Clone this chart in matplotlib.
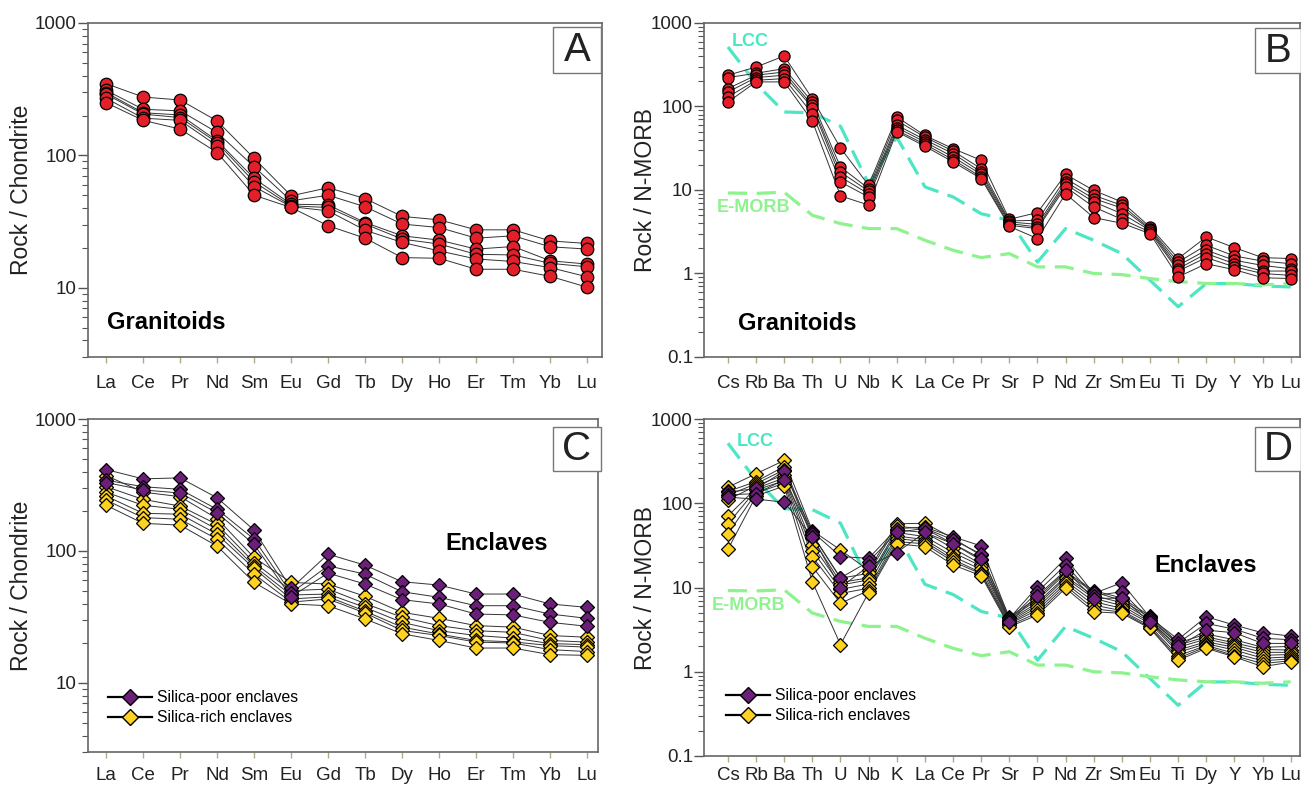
import numpy as np
import matplotlib
matplotlib.use("Agg")
import matplotlib.pyplot as plt
from matplotlib.lines import Line2D
from matplotlib.patches import Rectangle
from matplotlib.ticker import LogLocator, NullFormatter, FuncFormatter

W, H = 1301, 786
plt.rcParams['font.family'] = ['Liberation Sans', 'DejaVu Sans']

# Chondrite-normalised REE (panels A, C)
REE = ['La', 'Ce', 'Pr', 'Nd', 'Sm', 'Eu', 'Gd', 'Tb', 'Dy', 'Ho', 'Er', 'Tm', 'Yb', 'Lu']
GRAN_REE = [
    [348, 276, 262, 182, 95, 49.5, 57, 47.2, 34.6, 32.6, 27.4, 27.4, 22.6, 21.6],
    [310, 223, 217, 149, 82, 45.4, 50, 40.9, 30.3, 28.5, 23.7, 24.7, 20.4, 19.6],
    [298, 210, 202, 129, 67, 42.8, 42.3, 31.1, 24.7, 22.9, 19.6, 20.5, 16.0, 15.1],
    [290, 205, 193, 125, 63, 41.6, 40.4, 30.3, 23.3, 21.4, 17.9, 17.7, 15.3, 14.4],
    [270, 191, 184, 118, 58, 41.0, 38.1, 27.2, 22.0, 19.0, 16.5, 15.8, 14.2, 12.1],
    [250, 184, 158, 105, 50, 40.4, 29.4, 23.7, 16.9, 16.7, 13.8, 13.8, 12.2, 10.1],
]
POOR_REE = [
    [414, 352, 358, 253, 144, 52, 94.6, 78.1, 58.5, 55.2, 47.2, 47.2, 39.7, 37.4],
    [344, 307, 293, 207, 123, 48, 77.2, 66.8, 49.1, 44.6, 38.5, 38.5, 33.3, 30.9],
    [330, 290, 275, 195, 112, 45, 68, 56.2, 42.8, 39.7, 33.3, 32.8, 28.8, 26.9],
]
RICH_REE = [
    [373, 279, 258, 176, 89.3, 57.8, 56.2, 45.4, 34.3, 30.9, 27.2, 26.5, 22.9, 22.2],
    [307, 246, 219, 159, 81.8, 50, 51.5, 40, 31.5, 27.2, 24.9, 24.2, 21.0, 20.4],
    [279, 222, 207, 146, 77, 46.4, 47.2, 37.4, 28.8, 24.9, 22.9, 21.9, 19.9, 19.5],
    [261, 193, 190, 134, 73.8, 43.3, 45, 35, 26.5, 23.5, 21, 20.5, 19.2, 18.7],
    [243, 179, 174, 123, 66.8, 41, 43.3, 33.9, 25, 22.9, 20.4, 20.1, 17.9, 17.3],
    [222, 162, 157, 109, 57.8, 39.7, 38.5, 30.6, 23.6, 21.0, 18.4, 18.4, 16.4, 16.2],
]

# N-MORB-normalised multi-element (panels B, D)
SPIDER = ['Cs', 'Rb', 'Ba', 'Th', 'U', 'Nb', 'K', 'La', 'Ce', 'Pr', 'Sr',
          'P', 'Nd', 'Zr', 'Sm', 'Eu', 'Ti', 'Dy', 'Y', 'Yb', 'Lu']
GRAN_SP = [
    [237, 297, 403, 124, 31.9, 11.4, 75, 45, 31.3, 22.7, 4.46, 5.36, 15.4, 9.9, 7.19, 3.61, 1.51, 2.74, 2.04, 1.55, 1.51],
    [222, 250, 284, 113, 18.9, 10.4, 68, 43, 29.3, 18.0, 4.26, 4.34, 13.7, 8.64, 6.56, 3.45, 1.37, 2.18, 1.62, 1.41, 1.31],
    [164, 237, 259, 103, 16.4, 9.7, 60, 40, 27.3, 16.4, 4.14, 3.88, 12.5, 7.88, 6.09, 3.35, 1.25, 1.90, 1.44, 1.25, 1.14],
    [149, 222, 237, 97, 14.3, 9.0, 56, 37.6, 24.9, 15.4, 3.96, 3.61, 11.7, 7.19, 5.21, 3.29, 1.14, 1.73, 1.31, 1.07, 1.07],
    [130, 206, 216, 82, 12.5, 8.25, 52, 35.3, 23.1, 14.3, 3.78, 3.45, 10.9, 6.26, 4.46, 3.14, 1.07, 1.55, 1.20, 1.0, 0.95],
    [113, 197, 197, 67, 8.5, 6.6, 50, 33.4, 21.7, 13.7, 3.67, 2.62, 9.0, 4.67, 4.0, 3.0, 0.91, 1.31, 1.11, 0.89, 0.87],
]
POOR_SP = [
    [135, 150, 240, 46, 23.3, 22.2, 50, 52, 40, 31.1, 4.3, 10.2, 22.2, 8.5, 11.4, 4.4, 2.42, 4.5, 3.58, 2.9, 2.65],
    [126, 130, 190, 43, 13, 20.3, 45, 50.5, 36.7, 25, 4.1, 8.9, 18.5, 8.0, 8.9, 4.1, 2.2, 3.75, 3.2, 2.5, 2.4],
    [118, 112, 103, 40, 10, 18, 26, 45, 33, 22, 3.9, 8.0, 16, 7.4, 7.5, 3.9, 2.0, 3.12, 2.9, 2.17, 2.17],
]
RICH_SP = [
    [155, 224, 322, 47.4, 27.9, 16, 57, 57.9, 38.4, 24, 4.5, 7.5, 15.5, 9.2, 7.5, 4.6, 2.2, 2.8, 2.4, 1.95, 2.0],
    [138, 181, 273, 42, 12.9, 14.7, 53, 50, 33, 21, 4.3, 7.1, 14.7, 8.9, 7.0, 4.42, 2.07, 2.6, 2.2, 1.84, 1.81],
    [125, 170, 250, 38.4, 11.5, 13, 48.3, 45, 29.2, 19, 4.1, 6.6, 13.5, 8.0, 6.6, 4.1, 1.95, 2.45, 2.07, 1.7, 1.7],
    [110, 161, 218, 32, 10.7, 12.3, 45, 40.2, 26, 18, 3.95, 6.19, 12.9, 7.43, 6.1, 3.9, 1.81, 2.27, 1.95, 1.57, 1.6],
    [70.8, 150, 200, 27.4, 9.5, 11, 40.9, 37, 23.3, 16.4, 3.8, 5.8, 12, 6.8, 5.65, 3.75, 1.7, 2.15, 1.81, 1.45, 1.5],
    [56.9, 144, 185, 23.3, 8.5, 9.8, 38, 35.1, 21.5, 15, 3.7, 5.4, 11.2, 6.19, 5.3, 3.5, 1.55, 2.05, 1.65, 1.35, 1.42],
    [43.3, 132, 173, 17.7, 6.5, 9.2, 35.1, 33, 20.3, 14.5, 3.55, 5.0, 10.5, 5.6, 5.1, 3.35, 1.45, 1.98, 1.55, 1.25, 1.35],
    [28.4, 122, 160, 11.7, 2.1, 8.7, 33, 30.6, 18.5, 13.8, 3.42, 4.71, 9.8, 5.16, 4.93, 3.27, 1.37, 1.9, 1.5, 1.15, 1.3],
]
LCC = [516, 188, 86, 84, 58, 11.9, 43, 10.9, 8.26, 5.2, 4.34, 1.37, 3.45, 2.5, 1.73, 0.83, 0.40, 0.757, 0.757, 0.71, 0.69]
EMORB = [9.2, 9.1, 9.4, 4.98, 3.96, 3.45, 3.45, 2.5, 1.9, 1.55, 1.73, 1.20, 1.20, 1.0, 0.97, 0.87, 0.8, 0.76, 0.76, 0.73, 0.76]

RED = '#e3202a'
PURPLE = '#6b1f78'
YELLOW = '#ffd21f'
LCC_C = '#4de6c4'
EMORB_C = '#8ef28e'


def frac(x, y):
    return x / W, 1 - y / H


def add_axes(fig, x0, y0, x1, y1):
    return fig.add_axes([x0 / W, 1 - y1 / H, (x1 - x0) / W, (y1 - y0) / H])


def style(ax, labels, xlim, ylim, ylabel, lab_x, xpad=9):
    ax.set_yscale('log')
    ax.set_xlim(*xlim)
    ax.set_ylim(*ylim)
    ax.set_xticks(range(len(labels)))
    ax.set_xticklabels(labels)
    ax.yaxis.set_major_formatter(FuncFormatter(lambda v, p: '%g' % v))
    ax.yaxis.set_minor_locator(LogLocator(base=10, subs=np.arange(2, 10)))
    ax.yaxis.set_minor_formatter(NullFormatter())
    ax.tick_params(axis='y', which='major', length=7, width=1, color='#555555',
                   labelsize=13.5, pad=1, labelcolor='#222222')
    ax.tick_params(axis='y', which='minor', length=4, width=0.8, color='#555555')
    ax.tick_params(axis='x', length=4, width=1, color='#b5a983', labelsize=13.5,
                   pad=xpad, labelcolor='#222222')
    for s in ax.spines.values():
        s.set_color('#666666')
        s.set_linewidth(1.2)
    ax.set_ylabel(ylabel, fontsize=16.5, color='#222222')
    ax.yaxis.set_label_coords(lab_x, 0.5)


def samples(ax, rows, marker, color, ms):
    x = np.arange(len(rows[0]))
    for r in rows:
        ax.plot(x, r, '-', color='#333333', lw=0.7, zorder=2)
    for r in rows:
        ax.plot(x, r, linestyle='none', marker=marker, ms=ms, mfc=color,
                mec='black', mew=0.9, zorder=3)


def references(ax):
    x = np.arange(len(LCC))
    ax.plot(x, LCC, color=LCC_C, lw=2.3, dashes=(6, 3), zorder=1)
    ax.plot(x, EMORB, color=EMORB_C, lw=2.3, dashes=(6, 3), zorder=1)


def letter(fig, x0, y0, x1, y1, s):
    fx, fy = frac(x0, y1)
    fig.add_artist(Rectangle((fx, fy), (x1 - x0) / W, (y1 - y0) / H,
                             transform=fig.transFigure, facecolor='white',
                             edgecolor='#777777', lw=1.0, zorder=5))
    cx, cy = frac((x0 + x1) / 2, (y0 + y1) / 2)
    fig.text(cx, cy, s, fontsize=29, color='#222222', ha='center', va='center', zorder=6)


def label(fig, x, y, s, color='black', size=17):
    fx, fy = frac(x, y)
    fig.text(fx, fy, s, fontsize=size, fontweight='bold', color=color,
             ha='left', va='center', zorder=6)


def enclave_legend(ax, x, y):
    handles = [
        Line2D([], [], color='black', lw=1.6, marker='D', ms=8, mfc=PURPLE, mec='black'),
        Line2D([], [], color='black', lw=1.6, marker='D', ms=8, mfc=YELLOW, mec='black'),
    ]
    fx, fy = frac(x, y)
    ax.legend(handles, ['Silica-poor enclaves', 'Silica-rich enclaves'],
              loc='upper left', bbox_to_anchor=(fx, fy), bbox_transform=ax.figure.transFigure,
              frameon=False, fontsize=11.3, handlelength=2.8, handletextpad=0.3,
              labelspacing=0.35, borderpad=0, borderaxespad=0)


fig = plt.figure(figsize=(W / 100, H / 100), dpi=100)

# A
axA = add_axes(fig, 88, 23, 602, 357)
samples(axA, GRAN_REE, 'o', RED, 9)
style(axA, REE, (-0.49, 13.4), (3, 1000), 'Rock / Chondrite', -0.107)
letter(fig, 553, 27, 601, 73, 'A')
label(fig, 107, 322, 'Granitoids')

# B
axB = add_axes(fig, 704, 23, 1300, 357)
references(axB)
samples(axB, GRAN_SP, 'o', RED, 8)
style(axB, SPIDER, (-0.85, 20.33), (0.1, 1000), 'Rock / N-MORB', -0.079)
letter(fig, 1255, 28, 1301, 73, 'B')
label(fig, 738, 323, 'Granitoids')
label(fig, 732, 41, 'LCC', LCC_C, 13)
label(fig, 717, 208, 'E-MORB', EMORB_C, 13)

# C
axC = add_axes(fig, 88, 419, 598, 752)
samples(axC, RICH_REE, 'D', YELLOW, 7)
samples(axC, POOR_REE, 'D', PURPLE, 7)
style(axC, REE, (-0.49, 13.3), (3, 1000), 'Rock / Chondrite', -0.108, xpad=7)
letter(fig, 553, 427, 601, 471, 'C')
label(fig, 445, 543, 'Enclaves')
enclave_legend(axC, 108, 690)

# D
axD = add_axes(fig, 704, 419, 1300, 756)
references(axD)
samples(axD, RICH_SP, 'D', YELLOW, 7)
samples(axD, POOR_SP, 'D', PURPLE, 7)
style(axD, SPIDER, (-0.85, 20.33), (0.1, 1000), 'Rock / N-MORB', -0.079, xpad=4)
letter(fig, 1255, 427, 1301, 471, 'D')
label(fig, 1154, 566, 'Enclaves')
label(fig, 737, 442, 'LCC', LCC_C, 13)
label(fig, 712, 605, 'E-MORB', EMORB_C, 13)
enclave_legend(axD, 726, 688)

fig.savefig('out.png', dpi=100)
